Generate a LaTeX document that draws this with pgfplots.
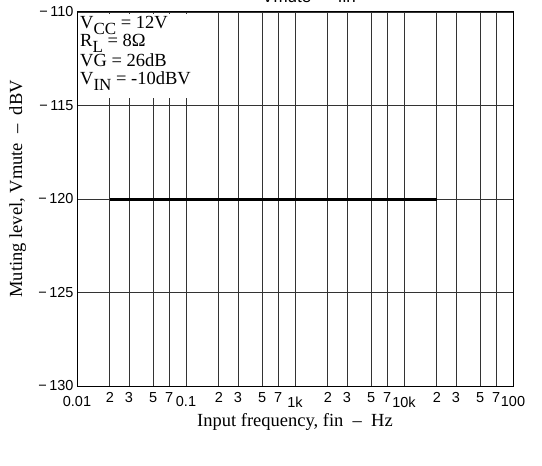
\documentclass[border=0pt]{standalone}
\usepackage{pgfplots}
\pgfplotsset{compat=1.18}
\usepackage{fontspec}
\setmainfont{Liberation Serif}
\setsansfont{Liberation Sans}
\newcommand\sub[1]{\raisebox{-6pt}{\fontsize{17}{17}\selectfont #1}}
\newcommand\dec[1]{\raisebox{-4pt}[\height][0pt]{#1}}
\begin{document}
\begin{tikzpicture}
\begin{axis}[
  scale only axis, width=436pt, height=374pt,
  xmode=log, xmin=10, xmax=100000, ymin=-130, ymax=-110,
  xtick={10,20,30,50,70,100,200,300,500,700,1000,2000,3000,5000,7000,10000,20000,30000,50000,70000,100000},
  xticklabels={\dec{0.01},2,3,5,7,\dec{0.1},2,3,5,7,\dec{1k},2,3,5,7,\dec{10k},2,3,5,7,\dec{100}},
  minor xtick={},
  ytick={-130,-125,-120,-115,-110},
  yticklabels={−\,130,−\,125,−\,120,−\,115,−\,110},
  major tick length=0pt,
  grid=major,
  major grid style={black!80, line width=0.9pt},
  axis line style={black, line width=1pt},
  ticklabel style={font=\sffamily\fontsize{14.5}{14.5}\selectfont},
  xticklabel style={yshift=-3pt},
  xlabel={Input frequency, fin \ -- \ Hz},
  ylabel={Muting level, Vmute \ -- \ dBV},
  label style={font=\fontsize{18.5}{20}\selectfont},
  xlabel style={at={(axis description cs:0.5,0)}, anchor=base, yshift=-40pt},
  ylabel style={at={(axis description cs:-0.126,0.527)}, anchor=base, rotate=0},
]
\addplot[black, line width=3pt] coordinates {(20,-120) (20000,-120)};
\end{axis}
\fill[white] ([shift={(0.6pt,-2pt)}]current axis.north west) rectangle ([shift={(128pt,-86pt)}]current axis.north west);
\begin{scope}[every node/.style={anchor=base west, inner sep=0pt, font=\fontsize{18.5}{20}\selectfont}]
\node at ([shift={(3pt,-17pt)}]current axis.north west) {V\sub{CC} = 12V};
\node at ([shift={(3pt,-35pt)}]current axis.north west) {R\sub{L} = 8Ω};
\node at ([shift={(3pt,-55pt)}]current axis.north west) {VG = 26dB};
\node at ([shift={(3pt,-73pt)}]current axis.north west) {V\sub{IN} = -10dBV};
\end{scope}
\node[anchor=base, font=\sffamily\fontsize{17}{17}\selectfont] at ([shift={(14pt,9pt)}]current axis.north) {Vmute — fin};
\pgfresetboundingbox
\path ([shift={(-77pt,-79pt)}]current axis.south west) rectangle ([shift={(29pt,12pt)}]current axis.north east);
\end{tikzpicture}
\end{document}
